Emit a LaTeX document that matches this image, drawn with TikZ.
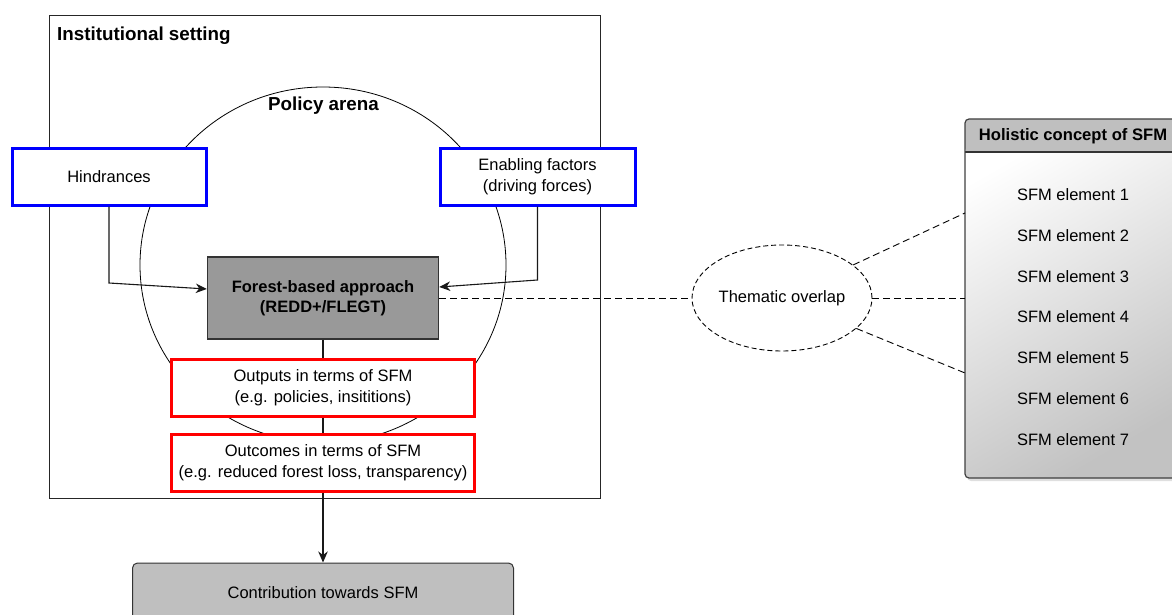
\documentclass[tikz,border=0pt]{standalone}
\usepackage{fontspec}
\setmainfont{Liberation Sans}
\usetikzlibrary{arrows.meta,shapes.geometric,shadows}

\begin{document}
\begin{tikzpicture}[x=1pt,y=-1pt,
  txt/.style={font=\fontsize{16.5}{20.5}\selectfont, align=center, inner sep=0pt},
  ttl/.style={font=\fontsize{18.8}{22}\selectfont\bfseries, inner sep=0pt},
  hintbox/.style={txt, draw=blue, line width=3pt, fill=white, minimum height=57pt},
  resultbox/.style={txt, draw=red, line width=3pt, fill=white, minimum width=303pt, minimum height=57pt},
  link/.style={line width=1.1pt, black!90},
  arr/.style={link, -{Stealth[length=11pt,width=9.5pt,inset=3.5pt]}},
  dashlink/.style={line width=0.9pt, dash pattern=on 7pt off 4pt},
]
\useasboundingbox (0,0) rectangle (1172,615);
\clip (0,0) rectangle (1172,615);

% institutional setting frame
\node[draw=black!85, line width=1pt, minimum width=550.6pt, minimum height=482.7pt, inner sep=0pt] (inst) at (324.7,256.65) {};
\node[ttl, anchor=west] (insttitle) at (57,36) {Institutional setting};

% policy arena
\node[draw, ellipse, line width=0.8pt, minimum width=366pt, minimum height=356pt, inner sep=0pt] (arena) at (323,265) {};
\node[ttl] (arenatitle) at (323.5,106) {Policy arena};

% driving and hindering factors
\node[hintbox, minimum width=194pt] (hind) at (109,176.5) {Hindrances};
\node[hintbox, minimum width=195pt] (enab) at (537.5,176.5) {Enabling factors\\(driving forces)};

% the approach and its results
\node[txt, font=\fontsize{16.5}{20.5}\selectfont\bfseries, draw=black!80, line width=1.5pt, fill=black!40,
      minimum width=231pt, minimum height=82pt] (forest) at (323,298) {Forest-based approach\\(REDD+/FLEGT)};
\node[resultbox] (outputs) at (323,387.5) {Outputs in terms of SFM\\(e.g. policies, insititions)};
\node[resultbox] (outcomes) at (323,462.5) {Outcomes in terms of SFM\\(e.g. reduced forest loss, transparency)};

\node[txt, draw=black!80, line width=1pt, rounded corners=5pt, fill=black!25,
      minimum width=381pt, minimum height=60pt] (contrib) at (323,593) {Contribution towards SFM};

% connectors
\coordinate (hbend) at (109,283);
\coordinate (ebend) at (537.5,280);
\draw[arr] (hind.south) -- (hbend) -- ([yshift=9pt]forest.west);
\draw[arr] (enab.south) -- (ebend) -- ([yshift=11pt]forest.east);
\draw[link] (forest.south) -- (outputs.north);
\draw[link] (outputs.south) -- (outcomes.north);
\draw[arr] (outcomes.south) -- (contrib.north);

% holistic concept of SFM
\node[draw=black!75, line width=1.2pt, rounded corners=4pt, inner sep=0pt, outer sep=0pt,
      top color=white, bottom color=black!24, shading angle=30,
      drop shadow={opacity=0.25, shadow xshift=2pt, shadow yshift=-3pt},
      minimum width=216pt, minimum height=359pt,
      path picture={
        \fill[black!25] (path picture bounding box.north west) rectangle ([yshift=-33pt]path picture bounding box.north east);
        \draw[line width=2pt, black!80] ([yshift=-33pt]path picture bounding box.north west) -- ([yshift=-33pt]path picture bounding box.north east);
      }] (holistic) at (1073,298.5) {};
\node[font=\fontsize{16.6}{20}\selectfont\bfseries, inner sep=0pt] (holtitle) at (1073,136) {Holistic concept of SFM};
\foreach \i/\yy in {1/195,2/236,3/277,4/317,5/358,6/399,7/440}{
  \node[txt] (el\i) at (1073,\yy) {SFM element \i};
}

% thematic overlap
\node[txt, draw, ellipse, line width=0.9pt, dash pattern=on 5pt off 3pt, fill=white,
      minimum width=180pt, minimum height=106pt] (overlap) at (782,298) {Thematic overlap};
\coordinate (hup) at (965,213);
\coordinate (hlow) at (965,373);
\draw[dashlink] (forest.east) -- (overlap.west);
\draw[dashlink] (overlap) -- (hup);
\draw[dashlink] (overlap.east) -- (holistic.west |- overlap.east);
\draw[dashlink] (overlap) -- (hlow);
\end{tikzpicture}
\end{document}
